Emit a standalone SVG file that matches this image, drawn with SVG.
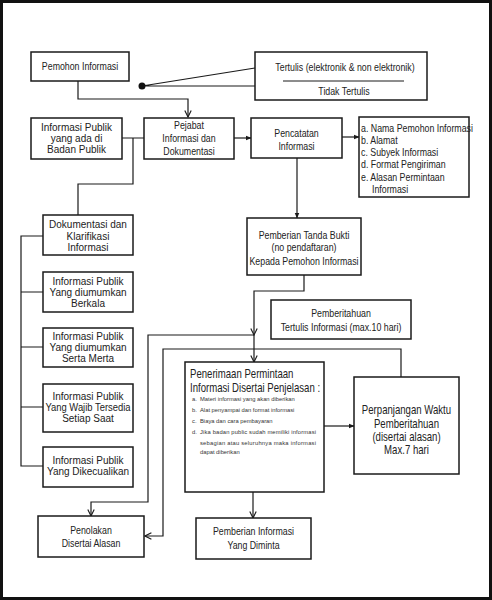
<svg xmlns="http://www.w3.org/2000/svg" width="492" height="600" viewBox="0 0 492 600">
<defs>
<style>
.b{fill:#fff;stroke:#1a1a1a;stroke-width:1.5}
.c{fill:none;stroke:#1a1a1a;stroke-width:1.2}
.n{font-family:"Liberation Sans",Arial,sans-serif;font-size:11px;fill:#222}
.L{font-size:12px}
.r{font-family:"Liberation Sans",Arial,sans-serif;font-size:10px;fill:#222}
.s{font-family:"Liberation Sans",Arial,sans-serif;font-size:5.8px;fill:#333}
.m{text-anchor:middle}
</style>
<marker id="ov" viewBox="0 0 10 10" refX="9" refY="5" markerWidth="8" markerHeight="8" markerUnits="userSpaceOnUse" orient="auto">
<path d="M1,1 L9,5 L1,9" fill="none" stroke="#1a1a1a" stroke-width="1.4"/>
</marker>
<marker id="fa" viewBox="0 0 10 10" refX="9" refY="5" markerWidth="6" markerHeight="6" markerUnits="userSpaceOnUse" orient="auto">
<path d="M0,1 L10,5 L0,9 z" fill="#1a1a1a"/>
</marker>
</defs>
<rect x="1.5" y="1.5" width="489" height="597" fill="#fff" stroke="#111" stroke-width="3"/>

<g id="connectors">
<path class="c" d="M78,81 V99 H188 V117" marker-end="url(#ov)"/>
<path class="c" d="M142,86 L255,68 M142,86 H255"/>
<circle cx="142" cy="86" r="3.5" fill="#111"/>
<path class="c" d="M122,138 H144 M133,138 V184 H78 V215"/>
<path class="c" d="M234,138 H251" marker-end="url(#fa)"/>
<path class="c" d="M342,137 H359" marker-end="url(#fa)"/>
<path class="c" d="M297,158 V218" marker-end="url(#fa)"/>
<path class="c" d="M304,275 V291 H254 V335" marker-end="url(#ov)"/>
<path class="c" d="M254,335 V362" marker-end="url(#ov)"/>
<path class="c" d="M254,335 H148 V502 H91 V516" marker-end="url(#ov)"/>
<path class="c" d="M401,377 V349 H163 V536 H145" marker-end="url(#ov)"/>
<path class="c" d="M324,426 H354" marker-end="url(#fa)"/>
<path class="c" d="M253,492 V518" marker-end="url(#ov)"/>
<path class="c" d="M43,236 H21 V466 H43 M21,292 H43 M21,347 H43 M21,407 H43"/>
</g>

<g id="pemohon">
<rect class="b" x="31" y="52" width="98" height="29"/>
<text class="n m" transform="translate(80,70) scale(.8,1)">Pemohon Informasi</text>
</g>
<g id="tertulis">
<rect class="b" x="255" y="52" width="172" height="48"/>
<text class="n m" transform="translate(345,71) scale(.8,1)">Tertulis (elektronik &amp; non elektronik)</text>
<line x1="283" y1="81" x2="404" y2="81" stroke="#1a1a1a" stroke-width="1"/>
<text class="n m" transform="translate(344,95) scale(.8,1)">Tidak Tertulis</text>
</g>
<g id="info-publik">
<rect class="b" x="31" y="118" width="91" height="41"/>
<text class="r m" x="76.5" y="131">Informasi Publik</text>
<text class="r m" x="76.5" y="142">yang ada di</text>
<text class="r m" x="76.5" y="153">Badan Publik</text>
</g>
<g id="pejabat">
<rect class="b" x="144" y="118" width="90" height="41"/>
<text class="n m" transform="translate(189,129) scale(.8,1)">Pejabat</text>
<text class="n m" transform="translate(189,142) scale(.8,1)">Informasi dan</text>
<text class="n m" transform="translate(189,155) scale(.8,1)">Dokumentasi</text>
</g>
<g id="pencatatan">
<rect class="b" x="251" y="118" width="91" height="40"/>
<text class="n m" transform="translate(296.5,137) scale(.8,1)">Pencatatan</text>
<text class="n m" transform="translate(296.5,150) scale(.8,1)">Informasi</text>
</g>
<g id="list">
<rect class="b" x="359" y="117" width="110" height="80"/>
<text class="n" transform="translate(361,132) scale(.8,1)">a. Nama Pemohon Informasi</text>
<text class="n" transform="translate(361,144) scale(.8,1)">b. Alamat</text>
<text class="n" transform="translate(361,156) scale(.8,1)">c. Subyek Informasi</text>
<text class="n" transform="translate(361,168) scale(.8,1)">d. Format Pengiriman</text>
<text class="n" transform="translate(361,181) scale(.8,1)">e. Alasan Permintaan</text>
<text class="n" transform="translate(372,193) scale(.8,1)">Informasi</text>
</g>
<g id="tanda-bukti">
<rect class="b" x="247" y="218" width="114" height="57"/>
<text class="n m" transform="translate(304,239) scale(.8,1)">Pemberian Tanda Bukti</text>
<text class="n m" transform="translate(304,251) scale(.8,1)">(no pendaftaran)</text>
<text class="n m" transform="translate(304,265) scale(.8,1)">Kepada Pemohon Informasi</text>
</g>
<g id="pemberitahuan">
<rect class="b" x="271" y="300" width="140" height="39"/>
<text class="n m" transform="translate(341,317) scale(.8,1)">Pemberitahuan</text>
<text class="n m" transform="translate(341,331) scale(.8,1)">Tertulis Informasi (max.10 hari)</text>
</g>
<g id="dokumentasi">
<rect class="b" x="43" y="215" width="90" height="40"/>
<text class="r m" x="88" y="228">Dokumentasi dan</text>
<text class="r m" x="88" y="240">Klarifikasi</text>
<text class="r m" x="88" y="251">Informasi</text>
</g>
<g id="berkala">
<rect class="b" x="43" y="272" width="90" height="40"/>
<text class="r m" x="88" y="285">Informasi Publik</text>
<text class="r m" x="88" y="296">Yang diumumkan</text>
<text class="r m" x="88" y="307">Berkala</text>
</g>
<g id="serta-merta">
<rect class="b" x="43" y="328" width="90" height="39"/>
<text class="r m" x="88" y="340">Informasi Publik</text>
<text class="r m" x="88" y="351">Yang diumumkan</text>
<text class="r m" x="88" y="362">Serta Merta</text>
</g>
<g id="setiap-saat">
<rect class="b" x="43" y="384" width="90" height="48"/>
<text class="r m" x="88" y="400">Informasi Publik</text>
<text class="r m" x="88" y="411" textLength="85" lengthAdjust="spacingAndGlyphs">Yang Wajib Tersedia</text>
<text class="r m" x="88" y="422">Setiap Saat</text>
</g>
<g id="dikecualikan">
<rect class="b" x="43" y="447" width="90" height="40"/>
<text class="r m" x="88" y="464">Informasi Publik</text>
<text class="r m" x="88" y="475">Yang Dikecualikan</text>
</g>
<g id="penerimaan">
<rect class="b" x="185" y="362" width="139" height="130"/>
<text class="n L" transform="translate(190,378) scale(.8,1)">Penerimaan Permintaan</text>
<text class="n L" transform="translate(190,392) scale(.8,1)">Informasi Disertai Penjelasan :</text>
<text class="s" x="192" y="401">a.</text><text class="s" x="200" y="401">Materi informasi yang akan diberikan</text>
<text class="s" x="192" y="412">b.</text><text class="s" x="200" y="412">Alat penyampai dan format informasi</text>
<text class="s" x="192" y="423">c.</text><text class="s" x="200" y="423">Biaya dan cara pembayaran</text>
<text class="s" x="192" y="434">d.</text><text class="s" x="200" y="434" textLength="116" lengthAdjust="spacing">Jika badan public sudah memiliki informasi</text>
<text class="s" x="200" y="445" textLength="116" lengthAdjust="spacing">sebagian atau seluruhnya maka informasi</text>
<text class="s" x="200" y="454">dapat diberikan</text>
</g>
<g id="perpanjangan">
<rect class="b" x="354" y="377" width="105" height="97"/>
<text class="n L m" transform="translate(406.5,414) scale(.8,1)">Perpanjangan Waktu</text>
<text class="n L m" transform="translate(406.5,428) scale(.8,1)">Pemberitahuan</text>
<text class="n L m" transform="translate(406.5,441) scale(.8,1)">(disertai alasan)</text>
<text class="n L m" transform="translate(406.5,454) scale(.8,1)">Max.7 hari</text>
</g>
<g id="pemberian-info">
<rect class="b" x="196" y="518" width="115" height="41"/>
<text class="n m" transform="translate(253.5,535) scale(.8,1)">Pemberian Informasi</text>
<text class="n m" transform="translate(253.5,549) scale(.8,1)">Yang Diminta</text>
</g>
<g id="penolakan">
<rect class="b" x="38" y="516" width="106" height="41"/>
<text class="n m" transform="translate(91,534) scale(.8,1)">Penolakan</text>
<text class="n m" transform="translate(91,547) scale(.8,1)">Disertai Alasan</text>
</g>
</svg>
